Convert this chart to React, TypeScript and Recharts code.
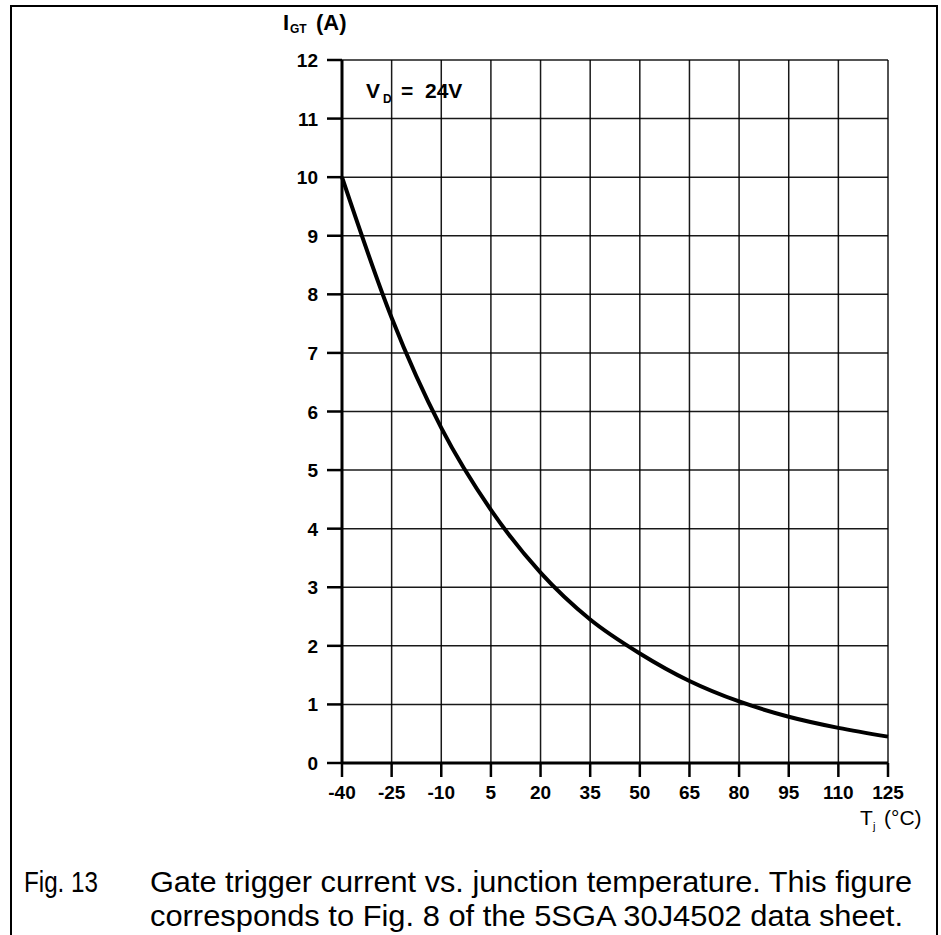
import { LineChart, Line, XAxis, YAxis, CartesianGrid } from "recharts"

// junction temperature (°C) and gate trigger current (A)
const temps = [-40, -25, -10, 5, 20, 35, 50, 65, 80, 95, 110, 125]
const igt = [10, 7.6, 5.72, 4.32, 3.25, 2.45, 1.87, 1.4, 1.05, 0.79, 0.6, 0.45]

const xTicks = [-40, -25, -10, 5, 20, 35, 50, 65, 80, 95, 110, 125]
const yTicks = [0, 1, 2, 3, 4, 5, 6, 7, 8, 9, 10, 11, 12]

const data = temps.map((t, i) => ({ t, igt: igt[i] }))

const font = "'Liberation Sans', Arial, Helvetica, sans-serif"

const XTick = (props: any) => (
  <text x={props.x} y={props.y} dy={14} textAnchor="middle" fontFamily={font} fontWeight={700} fontSize={19} fill="#000">
    {props.payload.value}
  </text>
)

const YTick = (props: any) => (
  <text x={props.x} y={props.y} dy={7} textAnchor="end" fontFamily={font} fontWeight={700} fontSize={19} fill="#000">
    {props.payload.value}
  </text>
)

export default function App() {
  return (
    <div style={{ position: "absolute", left: 0, top: 0, width: 941, height: 935, background: "#fff", overflow: "hidden" }}>
      {/* frame round the figure, open at the bottom */}
      <div
        style={{
          position: "absolute",
          left: 10,
          top: 5,
          width: 924,
          height: 940,
          borderTop: "2px solid #000",
          borderLeft: "2px solid #000",
          borderRight: "2px solid #000",
        }}
      />
      <div style={{ position: "absolute", left: 0, top: 0 }}>
        <LineChart width={941} height={935} data={data} margin={{ top: 60, right: 53, left: 282, bottom: 132 }}>
          <CartesianGrid stroke="#000" strokeWidth={1.5} strokeOpacity={0.9} />
          <XAxis
            dataKey="t"
            type="number"
            domain={[-40, 125]}
            ticks={xTicks}
            interval={0}
            height={40}
            axisLine={{ stroke: "#000", strokeWidth: 3 }}
            tickLine={{ stroke: "#000", strokeWidth: 2.5 }}
            tickSize={14}
            tickMargin={8}
            tick={XTick}
          />
          <YAxis
            type="number"
            domain={[0, 12]}
            ticks={yTicks}
            interval={0}
            width={60}
            axisLine={{ stroke: "#000", strokeWidth: 3 }}
            tickLine={{ stroke: "#000", strokeWidth: 2.5 }}
            tickSize={15}
            tickMargin={9}
            tick={YTick}
          />
          <Line
            dataKey="igt"
            type="monotone"
            stroke="#000"
            strokeWidth={4}
            dot={false}
            isAnimationActive={false}
          />
        </LineChart>
      </div>
      <svg width={941} height={935} style={{ position: "absolute", left: 0, top: 0, pointerEvents: "none" }}>
        <text fontFamily={font} fontWeight={700} fill="#000">
          <tspan x={283} y={30} fontSize={22}>I</tspan>
          <tspan x={290} y={33} fontSize={12}>GT</tspan>
          <tspan x={316} y={30} fontSize={22}>(A)</tspan>
        </text>
        <text fontFamily={font} fontWeight={700} fill="#000">
          <tspan x={366} y={98} fontSize={21}>V</tspan>
          <tspan x={383} y={103} fontSize={12}>D</tspan>
          <tspan x={401} y={98} fontSize={21}>=</tspan>
          <tspan x={425} y={98} fontSize={21}>24V</tspan>
        </text>
        <text fontFamily={font} fill="#000">
          <tspan x={860} y={825} fontSize={21}>T</tspan>
          <tspan x={873} y={830} fontSize={11}>j</tspan>
          <tspan x={884} y={825} fontSize={21}>(°C)</tspan>
        </text>
        <text x={24} y={892} fontFamily={font} fontSize={29} fill="#000" textLength={74} lengthAdjust="spacingAndGlyphs">
          Fig. 13
        </text>
        <text x={150} y={892} fontFamily={font} fontSize={29} fill="#000" textLength={762} lengthAdjust="spacingAndGlyphs">
          Gate trigger current vs. junction temperature. This figure
        </text>
        <text x={150} y={926} fontFamily={font} fontSize={29} fill="#000" textLength={753} lengthAdjust="spacingAndGlyphs">
          corresponds to Fig. 8 of the 5SGA 30J4502 data sheet.
        </text>
      </svg>
    </div>
  )
}
